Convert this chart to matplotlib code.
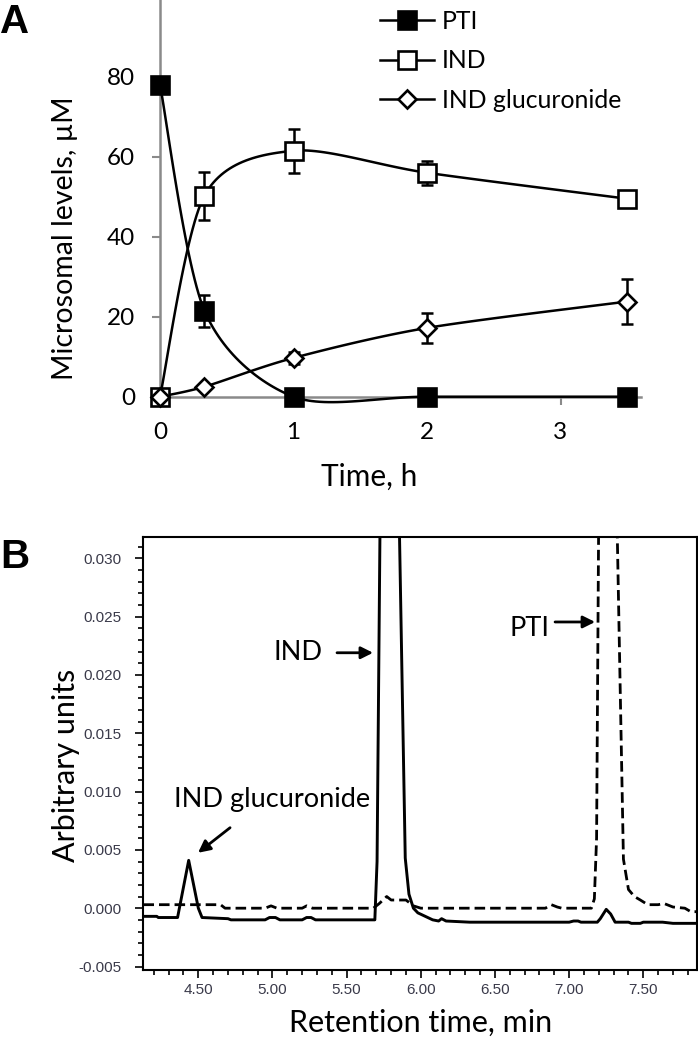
import numpy as np
import matplotlib
matplotlib.use('Agg')
from matplotlib import pyplot as plt
from matplotlib.lines import Line2D

plt.rcParams['font.family'] = ['Lato', 'DejaVu Sans']

# Panel A data: microsomal levels (uM) vs time (h)
time_h = [0, 0.333, 1, 2, 3.5]
pti = [78, 21.5, 0, 0, 0]
pti_err = [0, 4, 0, 0, 0]
ind = [0, 50.3, 61.5, 56, 49.5]
ind_err = [0, 6, 5.5, 3, 1]
gluc = [0, 2.5, 9.7, 17.2, 23.8]
gluc_err = [0, 0, 1.5, 3.8, 5.6]

# Panel B data: chromatograms (retention time, min / arbitrary units)
sample_t = [4.13, 4.22, 4.23, 4.36, 4.435, 4.50, 4.525, 4.70, 4.72, 4.95, 4.98,
            5.02, 5.05, 5.20, 5.23, 5.26, 5.29, 5.69, 5.705, 5.73, 5.79, 5.845,
            5.895, 5.92, 5.95, 5.98, 6.03, 6.08, 6.12, 6.14, 6.17, 6.33, 7.00,
            7.03, 7.06, 7.08, 7.19, 7.21, 7.25, 7.28, 7.31, 7.40, 7.42, 7.48,
            7.50, 7.60, 7.63, 7.70, 7.864]
sample_v = [-0.0007, -0.0007, -0.0008, -0.0008, 0.0041, 0.0000, -0.0008, -0.0009,
            -0.0010, -0.0010, -0.0008, -0.0008, -0.0010, -0.0010, -0.0008, -0.0008,
            -0.0010, -0.0010, 0.0040, 0.0400, 0.0750, 0.0400, 0.0043, 0.0012,
            0.0000, -0.0004, -0.0007, -0.0010, -0.0011, -0.0009, -0.0011, -0.0012,
            -0.0012, -0.0011, -0.0011, -0.0012, -0.0012, -0.0009, -0.0001, -0.0005,
            -0.0012, -0.0012, -0.0013, -0.0013, -0.0012, -0.0012, -0.0012, -0.0013,
            -0.0013]
std_t = [4.13, 4.65, 4.68, 4.95, 4.99, 5.03, 5.20, 5.23, 5.27, 5.68, 5.72, 5.77,
         5.80, 5.84, 5.90, 5.95, 6.00, 6.84, 6.88, 6.92, 6.95, 7.15, 7.17, 7.185,
         7.20, 7.26, 7.32, 7.366, 7.40, 7.44, 7.48, 7.53, 7.60, 7.64, 7.70, 7.78,
         7.82, 7.864]
std_v = [0.0003, 0.0003, 0.0000, 0.0000, 0.0002, 0.0000, 0.0000, 0.0002, 0.0000,
         0.0000, 0.0004, 0.0010, 0.0007, 0.0007, 0.0007, 0.0002, 0.0000, 0.0000,
         0.0003, 0.0001, 0.0000, 0.0000, 0.0008, 0.0060, 0.0350, 0.0800, 0.0350,
         0.0042, 0.0016, 0.0010, 0.0007, 0.0003, 0.0003, 0.0004, 0.0001, 0.0000,
         -0.0003, -0.0003]


def smooth(x, y, n=30, k=7.0):
    # Excel-style smoothed line (cardinal bezier), only for drawing
    x = np.asarray(x, float)
    y = np.asarray(y, float)
    px = np.concatenate([[x[0]], x, [x[-1]]])
    py = np.concatenate([[y[0]], y, [y[-1]]])
    xs, ys = [], []
    s = np.linspace(0, 1, n)
    for i in range(1, len(px) - 2):
        p0 = np.array([px[i], py[i]])
        p3 = np.array([px[i + 1], py[i + 1]])
        c1 = p0 + (np.array([px[i + 1], py[i + 1]]) - np.array([px[i - 1], py[i - 1]])) / k
        c2 = p3 - (np.array([px[i + 2], py[i + 2]]) - np.array([px[i], py[i]])) / k
        pts = ((1 - s) ** 3)[:, None] * p0 + (3 * (1 - s) ** 2 * s)[:, None] * c1 \
            + (3 * (1 - s) * s ** 2)[:, None] * c2 + (s ** 3)[:, None] * p3
        xs.extend(pts[:, 0])
        ys.extend(pts[:, 1])
    return xs, ys


W, H = 698, 1050
fig = plt.figure(figsize=(W / 100, H / 100), dpi=100)

# ---------------- Panel A ----------------
axA = fig.add_axes([160 / W, 1 - 396.7 / H, (640.6 - 160) / W, 396.7 / H])
gray = '#8a8a8a'
for sp in ['top', 'right']:
    axA.spines[sp].set_visible(False)
for sp in ['left', 'bottom']:
    axA.spines[sp].set_color(gray)
    axA.spines[sp].set_linewidth(1.8)
axA.set_xlim(0, 3.6)
axA.set_ylim(0, 99.2)
axA.set_xticks([0, 1, 2, 3])
axA.set_yticks([0, 20, 40, 60, 80])
axA.tick_params(direction='out', length=6, width=1.5, color=gray, labelsize=17.5, pad=12)
axA.tick_params(axis='x', pad=12)

series = [(pti, pti_err, 's', 'black', 'PTI'),
          (ind, ind_err, 's', 'white', 'IND'),
          (gluc, gluc_err, 'D', 'white', 'IND glucuronide')]
handles = []
for vals, err, mk, fc, lab in series:
    sx, sy = smooth(time_h, vals)
    axA.plot(sx, sy, color='black', lw=1.8, clip_on=False, zorder=3)
    axA.errorbar(time_h, vals, yerr=err, fmt='none', ecolor='black', elinewidth=1.8,
                 capsize=4, capthick=1.8, clip_on=False, zorder=4)
    ms = 13 if mk == 's' else 9
    axA.plot(time_h, vals, ls='none', marker=mk, ms=ms, mfc=fc, mec='black', mew=1.9,
             clip_on=False, zorder=5)
    handles.append(Line2D([], [], color='black', lw=1.8, marker=mk, ms=ms, mfc=fc,
                          mec='black', mew=1.9))

axA.legend(handles, [s[4] for s in series], loc='upper left',
           bbox_to_anchor=(380 / W, 1 - 10 / H), bbox_transform=fig.transFigure,
           frameon=False, fontsize=17.8, handlelength=2.2, handletextpad=0.3,
           labelspacing=0.66, borderpad=0, borderaxespad=0)

axA.set_xlabel('Time, h', fontsize=21.5)
axA.xaxis.set_label_coords((369 - 160) / (640.6 - 160), -(477 - 396.7) / 396.7, transform=axA.transAxes)
axA.xaxis.label.set_va('center')
axA.set_ylabel('Microsomal levels, µM', fontsize=20.5)
axA.yaxis.set_label_coords(-(160 - 65) / (640.6 - 160), (396.7 - 238) / 396.7, transform=axA.transAxes)
axA.yaxis.label.set_va('center')

fig.text(0 / W, 1 - 22 / H, 'A', fontsize=29, fontweight='bold', va='center', ha='left',
         family=['Liberation Sans', 'DejaVu Sans'])

# ---------------- Panel B ----------------
axB = fig.add_axes([143.3 / W, 1 - 970 / H, (697.3 - 143.3) / W, (970 - 537.3) / H])
for sp in axB.spines.values():
    sp.set_linewidth(1.5)
axB.set_xlim(4.129, 7.864)
axB.set_ylim(-0.0053, 0.0318)
axB.set_xticks([4.5, 5.0, 5.5, 6.0, 6.5, 7.0, 7.5])
axB.set_xticklabels(['4.50', '5.00', '5.50', '6.00', '6.50', '7.00', '7.50'])
axB.set_xticks(np.arange(4.2, 7.85, 0.1), minor=True)
axB.set_yticks([-0.005, 0, 0.005, 0.010, 0.015, 0.020, 0.025, 0.030])
axB.set_yticklabels(['-0.005', '0.000', '0.005', '0.010', '0.015', '0.020', '0.025', '0.030'])
axB.set_yticks(np.arange(-0.005, 0.0315, 0.001), minor=True)
axB.tick_params(which='major', direction='out', length=6, width=1.2, labelsize=11,
                labelcolor='#3a3a4a')
axB.tick_params(which='minor', direction='out', length=3.5, width=1.2)
axB.tick_params(axis='y', which='major', pad=9.5)
axB.tick_params(axis='x', which='major', pad=3)
for lab in axB.get_xticklabels() + axB.get_yticklabels():
    lab.set_family(['Liberation Sans', 'DejaVu Sans'])

axB.plot(std_t, std_v, color='black', lw=2.0, dashes=(3.8, 1.8))
axB.plot(sample_t, sample_v, color='black', lw=2.1)

arrow = dict(arrowstyle='-|>', color='black', lw=2, mutation_scale=18, shrinkA=0, shrinkB=0)
axB.annotate('', xy=(4.498, 0.00475), xytext=(4.714, 0.0069), arrowprops=arrow)
axB.text(4.994, 0.0093, 'IND glucuronide', fontsize=19.5, ha='center', va='center')
axB.annotate('', xy=(5.678, 0.0219), xytext=(5.435, 0.0219), arrowprops=arrow)
axB.text(5.169, 0.0219, 'IND', fontsize=19.5, ha='center', va='center')
axB.annotate('', xy=(7.175, 0.02454), xytext=(6.905, 0.02454), arrowprops=arrow)
axB.text(6.73, 0.024, 'PTI', fontsize=19.5, ha='center', va='center')

axB.set_xlabel('Retention time, min', fontsize=22)
axB.xaxis.set_label_coords(0.5, -(1023 - 970) / (970 - 537.3), transform=axB.transAxes)
axB.xaxis.label.set_va('center')
axB.set_ylabel('Arbitrary units', fontsize=22)
axB.yaxis.set_label_coords(-(143.3 - 66) / (697.3 - 143.3), (970 - 765) / (970 - 537.3), transform=axB.transAxes)
axB.yaxis.label.set_va('center')

fig.text(0 / W, 1 - 557 / H, 'B', fontsize=29, fontweight='bold', va='center', ha='left',
         family=['Liberation Sans', 'DejaVu Sans'])

fig.savefig('out.png', dpi=100)
